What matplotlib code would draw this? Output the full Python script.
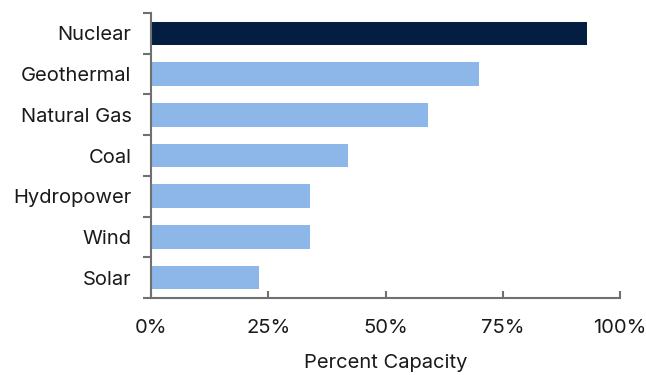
import matplotlib
matplotlib.use("Agg")
import matplotlib.pyplot as plt
import numpy as np

categories = ["Nuclear", "Geothermal", "Natural Gas", "Coal", "Hydropower", "Wind", "Solar"]
values = [93, 70, 59, 42, 34, 34, 23]
highlight = "Nuclear"
xticks = [0, 25, 50, 75, 100]
xtick_labels = ["0%", "25%", "50%", "75%", "100%"]

plt.rcParams['font.family'] = ['Inter', 'DejaVu Sans']

fig = plt.figure(figsize=(6.46, 3.75), dpi=100)
ax = fig.add_axes([151/646, 77/375, (620-151)/646, (298-13)/375])

n = len(categories)
y = np.arange(n)
colors = ["#041E42" if c == highlight else "#8DB7E8" for c in categories]
ax.barh(y, values, height=0.58, color=colors)
ax.set_ylim(n - 0.5, -0.5)
ax.set_xlim(0, 100)

fs = 14.5
ax.set_yticks(y)
ax.set_yticklabels(categories, fontsize=fs, color="#1a1a1a")
ax.tick_params(axis='y', which='major', length=0, pad=14)
ax.set_yticks(np.arange(n + 1) - 0.5, minor=True)
ax.tick_params(axis='y', which='minor', length=6, width=1.5, color="#707070", direction='out')

ax.set_xticks(xticks)
ax.set_xticklabels(xtick_labels, fontsize=fs, color="#1a1a1a")
ax.tick_params(axis='x', length=5, width=1.5, color="#707070", direction='in', pad=15)
ax.set_xlabel("Percent Capacity", fontsize=fs, color="#1a1a1a", labelpad=12)

for s in ["top", "right"]:
    ax.spines[s].set_visible(False)
for s in ["left", "bottom"]:
    ax.spines[s].set_color("#707070")
    ax.spines[s].set_linewidth(1.5)

fig.savefig("out.png", dpi=100)
